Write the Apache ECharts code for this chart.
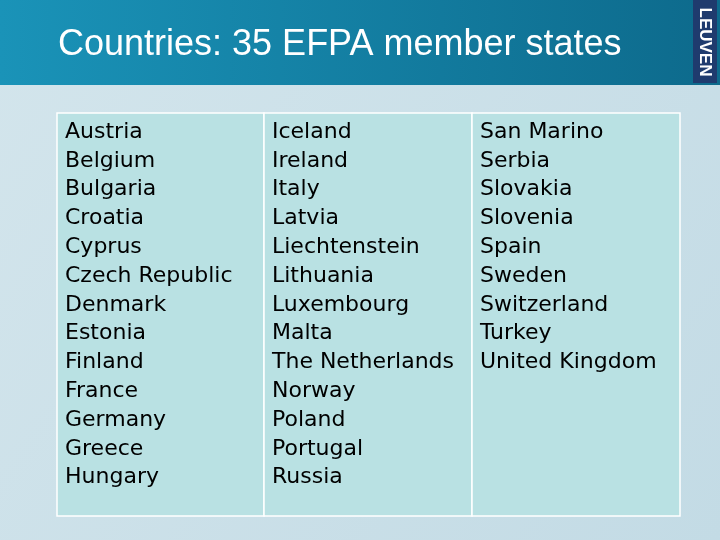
<!DOCTYPE html>
<html><head><meta charset="utf-8">
<script src="https://cdn.jsdelivr.net/npm/echarts@6/dist/echarts.min.js"></script>
<style>html,body{margin:0;padding:0}#c{width:720px;height:540px}</style>
</head><body><div id="c"></div>
<script>
const title = "Countries: 35 EFPA member states";
const column1 = ["Austria","Belgium","Bulgaria","Croatia","Cyprus","Czech Republic","Denmark","Estonia","Finland","France","Germany","Greece","Hungary"];
const column2 = ["Iceland","Ireland","Italy","Latvia","Liechtenstein","Lithuania","Luxembourg","Malta","The Netherlands","Norway","Poland","Portugal","Russia"];
const column3 = ["San Marino","Serbia","Slovakia","Slovenia","Spain","Sweden","Switzerland","Turkey","United Kingdom"];
const columns = [column1, column2, column3];

const chart = echarts.init(document.getElementById('c'));
const g = [];
g.push({type:'rect',shape:{x:0,y:0,width:720,height:540},style:{fill:new echarts.graphic.LinearGradient(0,0,1,1,[{offset:0,color:'#d3e5ec'},{offset:1,color:'#c3dbe5'}])}});
g.push({type:'rect',shape:{x:0,y:0,width:720,height:85},style:{fill:new echarts.graphic.LinearGradient(0,0,1,0,[{offset:0,color:'#1a93b8'},{offset:1,color:'#0d6a8c'}])}});
g.push({type:'text',x:58,y:45,style:{text:title,fill:'#ffffff',font:'36px "Liberation Sans", Arial',textVerticalAlign:'middle'}});
g.push({type:'rect',shape:{x:693,y:0,width:24,height:83},style:{fill:'#1f3b6e'}});
g.push({type:'text',x:705,y:42,rotation:-Math.PI/2,style:{text:'LEUVEN',fill:'#ffffff',font:'bold 17px "Liberation Sans", Arial',textAlign:'center',textVerticalAlign:'middle'}});
const xs=[57,264,472,680];
for(let c=0;c<3;c++){
  g.push({type:'rect',shape:{x:xs[c],y:113,width:xs[c+1]-xs[c],height:403},style:{fill:'#b9e1e3',stroke:'#ffffff',lineWidth:1.5}});
  columns[c].forEach((name,i)=>{
    g.push({type:'text',x:xs[c]+8,y:132+i*28.8,style:{text:name,fill:'#000000',font:'22px "DejaVu Sans"',textVerticalAlign:'middle',textStroke:'#000',lineWidth:0.8}});
  });
}
chart.setOption({animation:false,graphic:{elements:g}});
</script></body></html>
